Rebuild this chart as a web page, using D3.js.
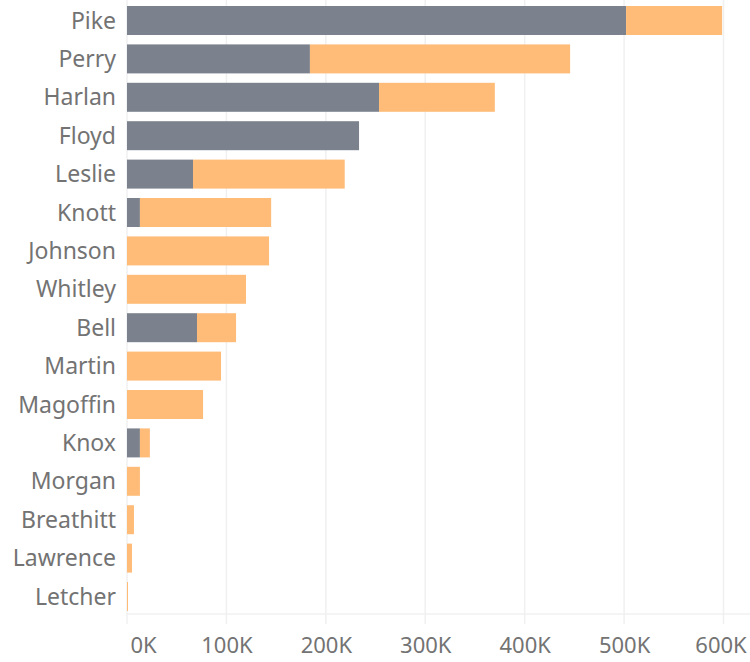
<!DOCTYPE html>
<html>
<head>
<meta charset="utf-8">
<script src="https://cdn.jsdelivr.net/npm/d3@7"></script>
<style>
	body { margin: 0; background: #fff; }
	.tick text { font-family: "Noto Sans", sans-serif; fill: #737373; }
</style>
</head>
<body>
<div class="chart"></div>
<script>
var WIDTH = 750,
	HEIGHT = 662;

var counties = ["Pike", "Perry", "Harlan", "Floyd", "Leslie", "Knott", "Johnson", "Whitley",
	"Bell", "Martin", "Magoffin", "Knox", "Morgan", "Breathitt", "Lawrence", "Letcher"];
// values in thousands
var grayValues = [502, 184, 253.5, 233.4, 66.4, 13, 0, 0, 70.4, 0, 0, 13, 0, 0, 0, 0];
var orangeValues = [96.6, 261.7, 116.5, 0, 152.6, 132, 142.9, 119.7, 39.3, 94.6, 76.5, 10, 13, 7, 5, 1];
var xTicks = [0, 100, 200, 300, 400, 500, 600];

var GRAY = "#7c828d",
	ORANGE = "#ffbc78";

var svg = d3.select(".chart").append("svg")
	.attr("width", WIDTH)
	.attr("height", HEIGHT);

var xScale = d3.scaleLinear()
	.domain([0, 600])
	.range([127, 723.5]);

var yScale = d3.scaleBand()
	.domain(counties)
	.range([6, 611])
	.paddingInner(0.245)
	.paddingOuter(0);

// grid lines
svg.append("g").selectAll("line")
	.data(xTicks)
	.enter()
	.append("line")
	.attr("x1", function(d) { return xScale(d); })
	.attr("x2", function(d) { return xScale(d); })
	.attr("y1", 0)
	.attr("y2", 624)
	.attr("stroke", "#f0f0f0")
	.attr("stroke-width", 1.5);

svg.append("line")
	.attr("x1", 127)
	.attr("x2", WIDTH)
	.attr("y1", 614)
	.attr("y2", 614)
	.attr("stroke", "#f0f0f0")
	.attr("stroke-width", 1.5);

var rows = counties.map(function(c, i) {
	return { county: c, gray: grayValues[i], orange: orangeValues[i] };
});

var stack = d3.stack().keys(["gray", "orange"]);
var layers = stack(rows);
var colors = { gray: GRAY, orange: ORANGE };

svg.append("g").selectAll("g")
	.data(layers)
	.enter()
	.append("g")
	.attr("fill", function(d) { return colors[d.key]; })
	.selectAll("rect")
	.data(function(d) { return d; })
	.enter()
	.append("rect")
	.attr("x", function(d) { return xScale(d[0]); })
	.attr("y", function(d) { return yScale(d.data.county); })
	.attr("width", function(d) { return Math.max(0, xScale(d[1]) - xScale(d[0])); })
	.attr("height", yScale.bandwidth());

// y axis labels
var yAxis = d3.axisLeft(yScale).tickSize(0).tickPadding(0);
var yAxisGroup = svg.append("g")
	.attr("transform", "translate(116,0)")
	.call(yAxis);
yAxisGroup.select(".domain").remove();
yAxisGroup.selectAll("text")
	.attr("font-size", 23)
	.attr("dy", "0.35em");

// x axis
var xAxis = d3.axisBottom(xScale)
	.tickValues(xTicks)
	.tickSize(0)
	.tickPadding(0)
	.tickFormat(function(d) { return d + "K"; });
var xAxisGroup = svg.append("g")
	.attr("transform", "translate(0,645)")
	.call(xAxis);
xAxisGroup.select(".domain").remove();
xAxisGroup.selectAll("text")
	.attr("font-size", 22)
	.attr("dy", "0.35em")
	.attr("text-anchor", function(d) { return d === 0 ? "start" : "middle"; })
	.attr("x", function(d) { return d === 0 ? 3 : (d === 600 ? -3 : 0); });
</script>
</body>
</html>
